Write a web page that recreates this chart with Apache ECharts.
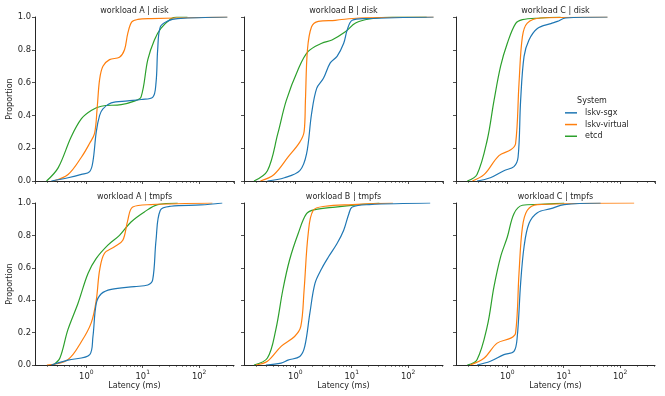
<!DOCTYPE html>
<html>
<head>
<meta charset="utf-8">
<script src="https://cdn.jsdelivr.net/npm/echarts@6/dist/echarts.min.js"></script>
<style>
  html, body { margin: 0; padding: 0; background: #fff; }
  #main { width: 665px; height: 396px; }
</style>
</head>
<body>
<div id="main"></div>
<script>
var systems = ['lskv-sgx', 'lskv-virtual', 'etcd'];
var colors = ['#1f77b4', '#ff7f0e', '#2ca02c'];
var panelTitles = ['workload A | disk', 'workload B | disk', 'workload C | disk',
                   'workload A | tmpfs', 'workload B | tmpfs', 'workload C | tmpfs'];
var minorTicks = [0.2, 0.3, 0.4, 0.5, 0.6, 0.7, 0.8, 0.9, 2, 3, 4, 5, 6, 7, 8, 9,
                  20, 30, 40, 50, 60, 70, 80, 90, 200, 300, 400];

// [latency ms, proportion]
var aDiskSgx = [[0.24,0],[0.475,0.02],[0.817,0.04],[1.145,0.057],[1.31,0.12],[1.5,0.30],[1.72,0.40],[1.97,0.44],[2.76,0.476],[5.43,0.488],[9.35,0.497],[15.0,0.51],[17.2,0.6],[18.4,0.8],[20.5,0.94],[27.6,0.975],[41.6,0.99],[316,1.0]];
var aDiskVirt = [[0.258,0],[0.475,0.04],[0.817,0.145],[1.145,0.23],[1.40,0.29],[1.56,0.45],[1.72,0.62],[1.97,0.70],[2.58,0.74],[3.87,0.755],[4.75,0.80],[5.43,0.90],[6.4,0.97],[8.17,0.985],[14.0,0.99],[108,0.997],[316,1.0]];
var aDiskEtcd = [[0.197,0],[0.316,0.08],[0.54,0.27],[0.82,0.38],[1.22,0.43],[1.84,0.456],[4.14,0.466],[7.1,0.487],[9.35,0.513],[12.3,0.74],[16.1,0.86],[21.0,0.93],[31.6,0.99],[40,1.0],[62,1.0]];
var bDiskSgx = [[0.32,0],[0.64,0.02],[1.2,0.063],[1.58,0.165],[1.94,0.41],[2.39,0.565],[3.15,0.626],[4.16,0.72],[5.49,0.76],[7.2,0.84],[8.3,0.92],[10.2,0.98],[17.7,0.99],[282,1.0]];
var bDiskVirt = [[0.24,0],[0.42,0.04],[0.74,0.145],[1.2,0.237],[1.43,0.30],[1.51,0.49],[1.64,0.80],[1.94,0.94],[2.56,0.973],[5.1,0.98],[13.5,0.994],[282,1.0]];
var bDiskEtcd = [[0.185,0],[0.32,0.063],[0.49,0.29],[0.69,0.49],[1.12,0.68],[1.69,0.79],[2.94,0.84],[4.46,0.86],[7.7,0.91],[11.7,0.963],[20.4,0.988],[53.6,1.0],[213,1.0]];
var cDiskSgx = [[0.29,0],[0.5,0.02],[0.87,0.063],[1.31,0.088],[1.55,0.145],[1.72,0.49],[1.98,0.76],[2.42,0.86],[3.41,0.93],[5.9,0.96],[7.7,0.973],[10.8,0.994],[59.6,1.0]];
var cDiskVirt = [[0.24,0],[0.39,0.04],[0.71,0.155],[1.15,0.19],[1.4,0.227],[1.61,0.595],[1.85,0.88],[2.26,0.963],[3.9,0.994],[59.6,1.0]];
var cDiskEtcd = [[0.195,0],[0.29,0.04],[0.44,0.25],[0.58,0.49],[0.76,0.70],[1.0,0.84],[1.4,0.96],[1.85,0.984],[3.9,0.994],[8.8,1.0]];
var aTmpfsSgx = [[0.24,0],[0.47,0.03],[1.15,0.064],[1.31,0.176],[1.5,0.38],[1.84,0.44],[2.76,0.467],[7.1,0.484],[12.3,0.494],[15.0,0.525],[17.2,0.77],[20.5,0.955],[31.6,0.98],[107,0.988],[257,1.0]];
var aTmpfsVirt = [[0.2,0],[0.47,0.033],[0.82,0.145],[1.22,0.26],[1.5,0.40],[1.72,0.586],[2.1,0.69],[3.16,0.73],[4.43,0.77],[5.4,0.89],[6.65,0.975],[14.0,0.99],[172,1.0]];
var aTmpfsEtcd = [[0.26,0],[0.34,0.043],[0.47,0.217],[0.71,0.38],[1.07,0.565],[1.5,0.658],[2.41,0.74],[3.87,0.80],[6.2,0.883],[10.7,0.945],[18.4,0.99],[41.6,1.0]];
var bTmpfsSgx = [[0.3,0],[0.56,0.012],[0.74,0.03],[1.2,0.053],[1.47,0.115],[1.81,0.32],[2.23,0.504],[2.94,0.596],[3.88,0.668],[5.49,0.75],[7.2,0.832],[8.9,0.934],[10.2,0.975],[20.4,0.99],[246,1.0]];
var bTmpfsVirt = [[0.2,0],[0.32,0.023],[0.56,0.115],[0.97,0.176],[1.25,0.238],[1.43,0.463],[1.69,0.81],[2.08,0.955],[3.38,0.98],[10.2,0.99],[53.7,1.0]];
var bTmpfsEtcd = [[0.185,0],[0.32,0.043],[0.45,0.217],[0.6,0.463],[0.79,0.648],[1.12,0.81],[1.58,0.934],[2.23,0.959],[5.1,0.975],[13.5,0.99],[30.9,1.0]];
var cTmpfsSgx = [[0.29,0],[0.5,0.023],[0.87,0.064],[1.31,0.084],[1.5,0.176],[1.72,0.504],[1.98,0.73],[2.42,0.873],[3.41,0.94],[5.9,0.965],[10.2,0.99],[45,1.0]];
var cTmpfsVirt = [[0.22,0],[0.39,0.043],[0.66,0.135],[1.15,0.166],[1.4,0.197],[1.61,0.566],[1.85,0.85],[2.26,0.955],[3.41,0.99],[177,1.0]];
var cTmpfsEtcd = [[0.195,0],[0.29,0.033],[0.44,0.238],[0.58,0.484],[0.76,0.668],[1.0,0.79],[1.31,0.934],[1.85,0.986],[3.9,0.992],[10.2,1.0]];

var panels = [
  [aDiskSgx, aDiskVirt, aDiskEtcd],
  [bDiskSgx, bDiskVirt, bDiskEtcd],
  [cDiskSgx, cDiskVirt, cDiskEtcd],
  [aTmpfsSgx, aTmpfsVirt, aTmpfsEtcd],
  [bTmpfsSgx, bTmpfsVirt, bTmpfsEtcd],
  [cTmpfsSgx, cTmpfsVirt, cTmpfsEtcd]
];

var xMin = 0.123, xMax = 415;
var colLeft = [35, 244, 456];
var rowTop = [17, 203];
var rowH = [164, 162];
var gridW = 199;
var ink = '#262626';
var font = 'DejaVu Sans';

var chart = echarts.init(document.getElementById('main'));

var grid = [], xAxis = [], yAxis = [], series = [], title = [];
for (var i = 0; i < 6; i++) {
  var r = Math.floor(i / 3), c = i % 3;
  grid.push({left: colLeft[c], top: rowTop[r], width: gridW, height: rowH[r]});
  title.push({
    text: panelTitles[i], left: colLeft[c] + gridW / 2, top: rowTop[r] - 10.5, textAlign: 'center',
    textStyle: {fontFamily: font, fontSize: 8, fontWeight: 'normal', color: ink}, padding: 0
  });
  // main log axis (data, major ticks, labels)
  xAxis.push({
    type: 'log', logBase: 10, gridIndex: i, min: xMin, max: xMax,
    name: r === 1 ? 'Latency (ms)' : '', nameLocation: 'middle', nameGap: 12,
    nameTextStyle: {fontFamily: font, fontSize: 8, color: ink},
    axisLine: {show: true, onZero: false, lineStyle: {color: ink, width: 1}},
    axisTick: {show: true, length: 3, lineStyle: {color: ink, width: 0.8}},
    splitLine: {show: false},
    axisLabel: {
      show: r === 1, showMinLabel: false, showMaxLabel: false, margin: 4,
      formatter: function (v) {
        return '{b|10}{s|' + Math.round(Math.log10(v)) + '}';
      },
      rich: {
        b: {fontFamily: font, fontSize: 8.4, color: ink, lineHeight: 12, verticalAlign: 'bottom'},
        s: {fontFamily: font, fontSize: 6, color: ink, lineHeight: 8, verticalAlign: 'top'}
      }
    }
  });
  // overlay axis in log10 units just for the minor ticks
  xAxis.push({
    type: 'value', gridIndex: i, position: 'bottom',
    min: Math.log10(xMin), max: Math.log10(xMax),
    axisLine: {show: false, onZero: false}, splitLine: {show: false},
    axisLabel: {show: false},
    axisTick: {show: true, length: 1.8, lineStyle: {color: ink, width: 0.7},
      customValues: minorTicks.map(function (v) { return Math.log10(v); })}
  });
  yAxis.push({
    type: 'value', gridIndex: i, min: 0, max: 1, interval: 0.2,
    name: c === 0 ? 'Proportion' : '', nameLocation: 'middle', nameGap: 19, nameRotate: 90,
    nameTextStyle: {fontFamily: font, fontSize: 8, color: ink},
    axisLine: {show: true, onZero: false, lineStyle: {color: ink, width: 1}},
    axisTick: {show: true, length: 3, lineStyle: {color: ink, width: 0.8}},
    splitLine: {show: false},
    axisLabel: {show: c === 0, margin: 4, fontFamily: font, fontSize: 8.4, color: ink,
      formatter: function (v) { return v.toFixed(1); }}
  });
  for (var s = 0; s < 3; s++) {
    series.push({
      name: systems[s], type: 'line', xAxisIndex: 2 * i, yAxisIndex: i,
      data: panels[i][s], showSymbol: false, smooth: 0.35,
      lineStyle: {color: colors[s], width: 1.2}, itemStyle: {color: colors[s]},
      z: 3 - s, animation: false
    });
  }
}

title.push({
  text: 'System', left: 592, top: 97, textAlign: 'center', padding: 0,
  textStyle: {fontFamily: font, fontSize: 8, fontWeight: 'normal', color: ink}
});

chart.setOption({
  animation: false,
  title: title,
  grid: grid,
  xAxis: xAxis,
  yAxis: yAxis,
  legend: {
    data: systems, orient: 'vertical', left: 560, top: 103,
    icon: 'rect', itemWidth: 12, itemHeight: 1.5, itemGap: 2,
    textStyle: {fontFamily: font, fontSize: 8, color: ink, lineHeight: 9.7, padding: [0, 0, 0, 3]}
  },
  series: series
});
</script>
</body>
</html>
